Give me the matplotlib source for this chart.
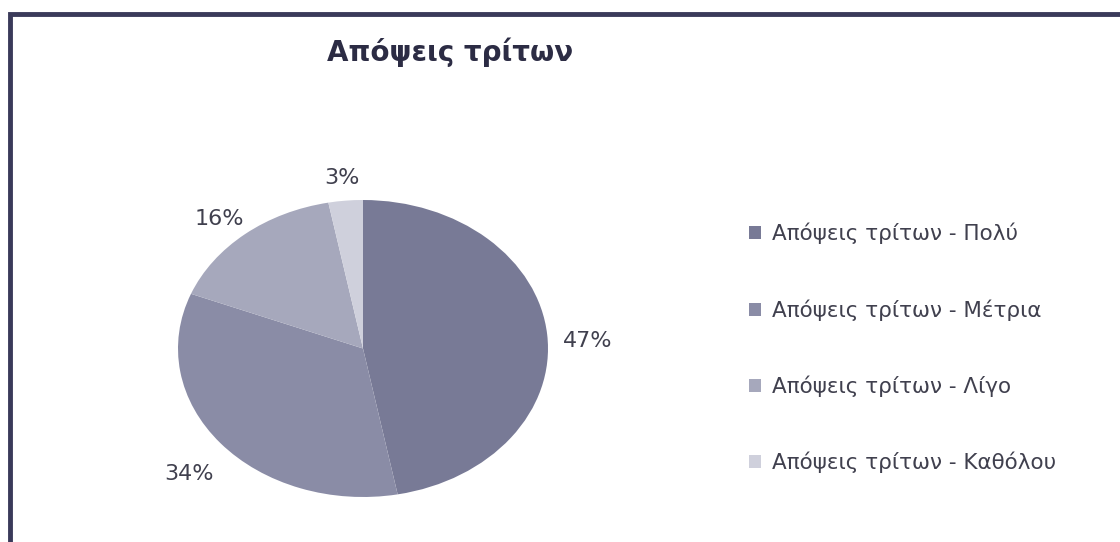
import matplotlib
matplotlib.use("Agg")
import matplotlib.pyplot as plt
from matplotlib.patches import Rectangle

plt.rcParams['font.family'] = ['DejaVu Sans']

# Δεδομένα γραφήματος
title = 'Απόψεις τρίτων'
categories = ['Απόψεις τρίτων - Πολύ', 'Απόψεις τρίτων - Μέτρια',
              'Απόψεις τρίτων - Λίγο', 'Απόψεις τρίτων - Καθόλου']
values = [47, 34, 16, 3]
colors = ['#787a96', '#8a8ca6', '#a6a8bc', '#cfd0dc']

W, H = 1120, 542
fig = plt.figure(figsize=(W / 100, H / 100), dpi=100)
fig.patch.set_facecolor('white')

# πλαίσιο γύρω από το γράφημα
border = Rectangle((10 / W, -0.1), 1.2, 1 - 14 / H + 0.1, transform=fig.transFigure,
                   fill=False, edgecolor='#3a3a5a', linewidth=3.5, clip_on=False)
fig.patches.append(border)

# η πίτα είναι ελλειπτική, γι' αυτό aspect='auto'
ax = fig.add_axes([178 / W, 45 / H, 370 / W, 297 / H])
wedges, texts, autotexts = ax.pie(values, colors=colors, startangle=90,
                                  counterclock=False, autopct='%.0f%%',
                                  pctdistance=1.22, radius=1,
                                  wedgeprops=dict(linewidth=0))
for t in autotexts:
    t.set_fontsize(16)
    t.set_color('#40404e')
    x, y = t.get_position()
    t.set_position((x, y - 0.065))
ax.set_aspect('auto')
ax.set_xlim(-1, 1)
ax.set_ylim(-1, 1)

fig.text(450 / W, 1 - 52 / H, title, ha='center', va='center',
         fontsize=20, fontweight='bold', color='#2c2c44')

leg = fig.legend(wedges, categories, loc='center left',
                 bbox_to_anchor=(730 / W, 1 - 348 / H), frameon=False,
                 fontsize=15.5, labelspacing=2.54, handlelength=0.55,
                 handleheight=0.55, handletextpad=0.5)
for t in leg.get_texts():
    t.set_color('#40404e')

fig.savefig('out.png', dpi=100)
